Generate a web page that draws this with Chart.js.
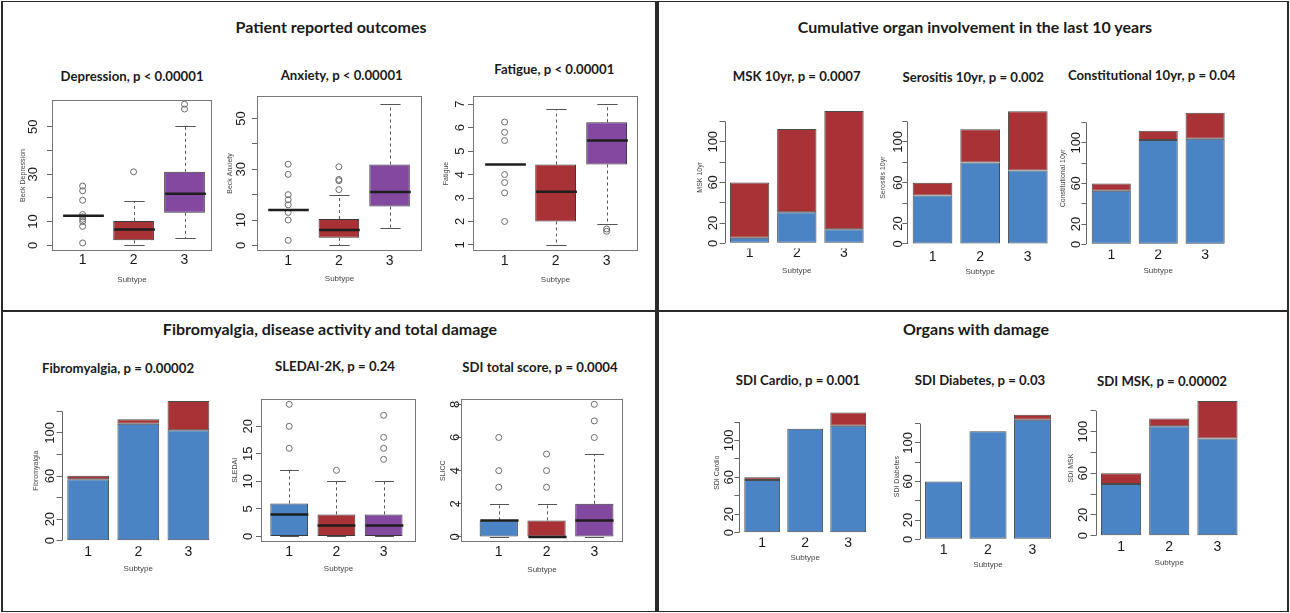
<!DOCTYPE html>
<html><head><meta charset="utf-8">
<script src="https://cdn.jsdelivr.net/npm/chart.js@4/dist/chart.umd.min.js"></script>
<style>
html,body{margin:0;padding:0;background:#fff;}
#wrap{position:relative;width:1290px;height:613px;overflow:hidden;background:#fff;}
#wrap canvas{position:absolute;}
.ttl{position:absolute;font-family:Lato,"Open Sans",sans-serif;font-weight:700;white-space:nowrap;transform:translate(-50%,-50%);color:#1a1a1a;line-height:1;}
.pt{font-size:16px;}
.st{font-size:13.2px;}
.ln{position:absolute;background:#2a2a2a;}
</style></head><body><div id="wrap"></div>
<script>
// ---------------- DATA ----------------
const subtypes = ['1', '2', '3'];
const boxPos = [1, 2, 3];
const barPos = [0.7, 1.9, 3.1];
const barTicks = [0, 20, 40, 60, 80, 100, 120];
const barTickLabels = ['0', '20', '', '60', '', '100', ''];

// Depression (Beck Depression)
const depLow = [12.5, 0, 3];
const depQ1 = [12.5, 2.1, 13.7];
const depMed = [12.5, 6.7, 21.8];
const depQ3 = [12.5, 10.3, 31];
const depHigh = [12.5, 18.7, 50.4];
const depOut = [[25, 23, 19, 13, 12, 11, 10, 8, 1], [31], [59.5, 57.5]];
const depTicks = [0, 10, 20, 30, 40, 50];
const depTickLabels = ['0', '10', '', '30', '', '50'];

// Anxiety (Beck Anxiety)
const anxLow = [14, 0, 6.9];
const anxQ1 = [14, 3, 15.3];
const anxMed = [14, 6.1, 21.1];
const anxQ3 = [14, 10.4, 31.9];
const anxHigh = [14, 20, 55.7];
const anxOut = [[32, 28, 20, 18, 16, 13, 10, 2], [31, 26, 25.5, 22], []];
const anxTicks = [0, 10, 20, 30, 40, 50];
const anxTickLabels = ['0', '10', '', '30', '', '50'];

// Fatigue
const fatLow = [4.43, 1, 1.88];
const fatQ1 = [4.43, 2, 4.43];
const fatMed = [4.43, 3.27, 5.45];
const fatQ3 = [4.43, 4.43, 6.23];
const fatHigh = [4.43, 6.79, 7];
const fatOut = [[6.24, 5.8, 5.45, 4.0, 3.66, 3.22, 2.0], [], [1.68, 1.58]];
const fatTicks = [1, 2, 3, 4, 5, 6, 7];
const fatTickLabels = ['1', '2', '3', '4', '5', '6', '7'];

// SLEDAI-2K
const sleLow = [0, 0, 0];
const sleQ1 = [0, 0, 0];
const sleMed = [4, 2, 2];
const sleQ3 = [6, 4, 4];
const sleHigh = [12, 10, 10];
const sleOut = [[24, 20, 16], [12], [22, 18, 16, 14]];
const sleTicks = [0, 5, 10, 15, 20];
const sleTickLabels = ['0', '5', '10', '15', '20'];

// SDI total score
const sdiLow = [0, 0, 0];
const sdiQ1 = [0, 0, 0];
const sdiMed = [1, 0, 1];
const sdiQ3 = [1, 1, 2];
const sdiHigh = [2, 2, 5];
const sdiOut = [[3, 4, 6], [3, 4, 5], [6, 7, 8]];
const sdiTicks = [0, 2, 4, 6, 8];
const sdiTickLabels = ['0', '2', '4', '6', '8'];

// Stacked bars: blue (bottom) and red (top)
const mskBlue = [5.6, 30.5, 13.8];
const mskRed = [54.4, 82, 116.4];
const serBlue = [47.6, 79.8, 72];
const serRed = [12.4, 32.6, 58];
const conBlue = [52.8, 102.6, 103.9];
const conRed = [7.2, 9.2, 25.6];
const fibBlue = [57.1, 108.6, 102.5];
const fibRed = [3.1, 4.1, 27.1];
const carBlue = [57.2, 112.7, 116];
const carRed = [2.9, 0, 14.4];
const diaBlue = [60, 112, 124];
const diaRed = [0, 0, 5.3];
const smskBlue = [49.7, 105.1, 93.3];
const smskRed = [10.3, 7.4, 36.2];

// ---------------- STYLE / LAYOUT ----------------
const BLUE = '#4a84c4', RED = '#a93236', PURPLE = '#83489f';
const FAM = '"Liberation Sans", Arial, sans-serif';
const wrap = document.getElementById('wrap');
const mctx = document.createElement('canvas').getContext('2d');
function widest(labels, size) {
  mctx.font = size + 'px ' + FAM;
  return Math.max(...labels.map(l => mctx.measureText(l).width));
}
function addDiv(cls, text, x, y) {
  const d = document.createElement('div');
  d.className = cls; d.textContent = text;
  d.style.left = x + 'px'; d.style.top = y + 'px';
  wrap.appendChild(d);
}
function addLine(x, y, w, h) {
  const d = document.createElement('div');
  d.className = 'ln';
  Object.assign(d.style, {left: x + 'px', top: y + 'px', width: w + 'px', height: h + 'px'});
  wrap.appendChild(d);
}

function rPlugin(kind, stats, yTicks) {
  return {
    id: 'rstyle',
    afterDatasetsDraw(chart) {
      const {ctx, chartArea: a, scales: {x, y}} = chart;
      ctx.save();
      if (kind === 'box') {
        const s = stats;
        for (let i = 0; i < boxPos.length; i++) {
          const cx = Math.round(x.getPixelForValue(boxPos[i])) + 0.5;
          const half = x.getPixelForValue(boxPos[i] + 0.4) - x.getPixelForValue(boxPos[i]);
          const cap = half / 2;
          const yq1 = y.getPixelForValue(s.q1[i]), yq3 = y.getPixelForValue(s.q3[i]);
          const ylo = y.getPixelForValue(s.low[i]), yhi = y.getPixelForValue(s.high[i]);
          ctx.strokeStyle = '#555'; ctx.lineWidth = 1;
          ctx.setLineDash([3, 3]);
          ctx.beginPath();
          if (s.high[i] > s.q3[i]) { ctx.moveTo(cx, yq3); ctx.lineTo(cx, yhi); }
          if (s.low[i] < s.q1[i]) { ctx.moveTo(cx, yq1); ctx.lineTo(cx, ylo); }
          ctx.stroke();
          ctx.setLineDash([]);
          ctx.beginPath();
          ctx.moveTo(cx - cap, Math.round(yhi) + 0.5); ctx.lineTo(cx + cap, Math.round(yhi) + 0.5);
          ctx.moveTo(cx - cap, Math.round(ylo) + 0.5); ctx.lineTo(cx + cap, Math.round(ylo) + 0.5);
          ctx.stroke();
          const ym = y.getPixelForValue(s.med[i]);
          ctx.strokeStyle = '#1e1e1e'; ctx.lineWidth = 2.5;
          ctx.beginPath(); ctx.moveTo(cx - half, ym); ctx.lineTo(cx + half, ym); ctx.stroke();
        }
        ctx.strokeStyle = '#777'; ctx.lineWidth = 1;
        ctx.strokeRect(Math.round(a.left) + 0.5, Math.round(a.top) + 0.5, Math.round(a.width) - 1, Math.round(a.height) - 1);
      } else {
        ctx.strokeStyle = '#666'; ctx.lineWidth = 1;
        const lx = Math.round(a.left) + 0.5;
        ctx.beginPath();
        ctx.moveTo(lx, y.getPixelForValue(yTicks[0]));
        ctx.lineTo(lx, y.getPixelForValue(yTicks[yTicks.length - 1]));
        ctx.stroke();
      }
      ctx.restore();
    }
  };
}

function makeChart(lay, kind, datasets, yTicks, yLabels, xTicks, yTitle, stats) {
  const tl = 5, pt = 3, pr = 3, fsX = 14, fsT = 8, fsY = 7, fsTick = lay.fs || 13;
  const left = Math.round(lay.ytX - 7);
  const top = Math.round(lay.y0 - pt);
  const right = Math.round(lay.x1 + pr);
  const bottom = Math.round(lay.stY + fsT * 0.6 + 2);
  const Lw = lay.x0 - left, Bh = bottom - lay.y1;
  const cv = document.createElement('canvas');
  cv.width = right - left; cv.height = bottom - top;
  cv.style.left = left + 'px'; cv.style.top = top + 'px';
  wrap.appendChild(cv);
  const wd = widest(yLabels, fsTick);
  new Chart(cv, {
    type: 'bar',
    data: {datasets},
    options: {
      responsive: false, animation: false, devicePixelRatio: 1,
      layout: {padding: {top: pt, right: pr, left: 0, bottom: 0}},
      plugins: {legend: {display: false}, tooltip: {enabled: false}, title: {display: false}},
      scales: {
        x: {
          type: 'linear', min: lay.xmin, max: lay.xmax, stacked: kind === 'bar', offset: false,
          grid: {display: false, drawTicks: false, offset: false}, border: {display: false},
          afterBuildTicks: s => { s.ticks = xTicks.map(v => ({value: v})); },
          afterFit: s => { s.height = Bh; s.paddingLeft = 0; s.paddingRight = 0; },
          ticks: {callback: (v, i) => subtypes[i], padding: lay.xlY - lay.y1 - fsX * 0.6,
                  font: {size: fsX, family: FAM}, color: '#1a1a1a', maxRotation: 0, autoSkip: false},
          title: {display: true, text: 'Subtype', font: {size: fsT, family: FAM}, color: '#444',
                  padding: {top: 0, bottom: bottom - lay.stY - fsT * 0.6}}
        },
        y: {
          type: 'linear', min: lay.ymin, max: lay.ymax, stacked: kind === 'bar', beginAtZero: false,
          grid: {drawOnChartArea: false, drawTicks: true, tickLength: tl, color: '#666'},
          border: {display: false},
          afterBuildTicks: s => { s.ticks = yTicks.map(v => ({value: v})); },
          afterFit: s => { s.width = Lw; s.paddingTop = 0; s.paddingBottom = 0; },
          ticks: {callback: (v, i) => yLabels[i], minRotation: 90, maxRotation: 90, crossAlign: 'center',
                  padding: lay.x0 - lay.labX - tl - wd / 2, font: {size: fsTick, family: FAM},
                  color: '#1a1a1a', autoSkip: false},
          title: {display: true, text: yTitle, font: {size: fsY, family: FAM}, color: '#444',
                  padding: {top: lay.ytX - left - fsY * 0.6, bottom: 0}}
        }
      }
    },
    plugins: [rPlugin(kind, stats, yTicks)]
  });
  addDiv('ttl st', lay.title, lay.tX, lay.tY);
}

function boxChart(lay, low, q1, med, q3, high, out, yTicks, yLabels, yTitle, colors) {
  const outPts = [];
  out.forEach((arr, i) => arr.forEach(v => outPts.push({x: boxPos[i], y: v})));
  const datasets = [
    {type: 'bar', data: boxPos.map((p, i) => ({x: p, y: [q1[i], q3[i]]})),
     backgroundColor: colors, borderColor: '#3a3a3a', borderWidth: 1, borderSkipped: false,
     categoryPercentage: 1, barPercentage: 0.8, order: 2},
    {type: 'scatter', data: outPts, pointRadius: 3, pointBorderWidth: 1,
     pointBorderColor: '#6a6a6a', pointBackgroundColor: 'rgba(0,0,0,0)', order: 1}
  ];
  makeChart(lay, 'box', datasets, yTicks, yLabels, boxPos, yTitle, {low, q1, med, q3, high});
}

function barChart(lay, blue, red, yTitle) {
  const mk = (vals, col) => ({type: 'bar', data: barPos.map((p, i) => ({x: p, y: vals[i]})),
    backgroundColor: col, borderColor: '#4a4a4a', borderWidth: 1, borderSkipped: false,
    categoryPercentage: 1, barPercentage: 1 / 1.2});
  const l = Object.assign({xmin: 0.064, xmax: 3.736, ymin: -5.2, ymax: 135.2}, lay);
  makeChart(l, 'bar', [mk(blue, BLUE), mk(red, RED)], barTicks, barTickLabels, barPos, yTitle);
}

// ---- panel frame lines ----
addLine(1, 1, 1288, 1);
addLine(1, 611, 1288, 1);
addLine(1, 1, 2, 611);
addLine(1287, 1, 2, 611);
addLine(655, 1, 4, 611);
addLine(1, 310, 1288, 2);

// ---- panel titles ----
addDiv('ttl pt', 'Patient reported outcomes', 331, 27);
addDiv('ttl pt', 'Cumulative organ involvement in the last 10 years', 975, 27);
addDiv('ttl pt', 'Fibromyalgia, disease activity and total damage', 330, 329);
addDiv('ttl pt', 'Organs with damage', 976, 329);

// ---- charts ----
const C3 = [BLUE, RED, PURPLE];
boxChart({title: 'Depression, p < 0.00001', x0: 52, x1: 214, y0: 98, y1: 251, xmin: 0.398, xmax: 3.54,
          ymin: -2.4, ymax: 61.3, labX: 33, ytX: 23, xlY: 260, stY: 280, tX: 132, tY: 77},
         depLow, depQ1, depMed, depQ3, depHigh, depOut, depTicks, depTickLabels, 'Beck Depression', C3);
boxChart({title: 'Anxiety, p < 0.00001', x0: 257, x1: 424, y0: 94, y1: 251, xmin: 0.385, xmax: 3.64,
          ymin: -2.2, ymax: 58.9, labX: 241.7, ytX: 230, xlY: 261, stY: 279, tX: 341.7, tY: 75.7},
         anxLow, anxQ1, anxMed, anxQ3, anxHigh, anxOut, anxTicks, anxTickLabels, 'Beck Anxiety', C3);
boxChart({title: 'Fatigue, p < 0.00001', x0: 473, x1: 640, y0: 94, y1: 251, xmin: 0.38, xmax: 3.615,
          ymin: 0.74, ymax: 7.35, labX: 460.7, ytX: 446, xlY: 260.7, stY: 279.3, tX: 554.3, tY: 70},
         fatLow, fatQ1, fatMed, fatQ3, fatHigh, fatOut, fatTicks, fatTickLabels, 'Fatigue', C3);

barChart({title: 'MSK 10yr, p = 0.0007', x0: 724.6, x1: 869.4, y0: 105.8, y1: 248.6,
          labX: 713, ytX: 700, xlY: 253.3, stY: 270.7, tX: 796.7, tY: 76.7}, mskBlue, mskRed, 'MSK 10yr');
barChart({title: 'Serositis 10yr, p = 0.002', x0: 907.3, x1: 1053.1, y0: 105.7, y1: 249.3,
          labX: 898.3, ytX: 882.7, xlY: 256.7, stY: 271.7, tX: 973.3, tY: 78.3}, serBlue, serRed, 'Serositis 10yr');
barChart({title: 'Constitutional 10yr, p = 0.04', x0: 1086.4, x1: 1230, y0: 106.9, y1: 249.6,
          labX: 1076.7, ytX: 1062.7, xlY: 255, stY: 270.7, tX: 1151.7, tY: 75.7}, conBlue, conRed, 'Constitutional 10yr');

barChart({title: 'Fibromyalgia, p = 0.00002', x0: 61.6, x1: 214.7, y0: 394.7, y1: 546.3,
          labX: 50, ytX: 36, xlY: 551.7, stY: 569, tX: 118, tY: 369}, fibBlue, fibRed, 'Fibromyalgia');
boxChart({title: 'SLEDAI-2K, p = 0.24', x0: 261, x1: 417.7, y0: 397.3, y1: 541.7, xmin: 0.403, xmax: 3.685,
          ymin: -0.96, ymax: 24.96, labX: 248, ytX: 235, xlY: 551.7, stY: 569, tX: 335, tY: 367.3},
         sleLow, sleQ1, sleMed, sleQ3, sleHigh, sleOut, sleTicks, sleTickLabels, 'SLEDAI', C3);
boxChart({title: 'SDI total score, p = 0.0004', x0: 461, x1: 625, y0: 397.3, y1: 542.3, xmin: 0.21, xmax: 3.6,
          ymin: -0.32, ymax: 8.32, labX: 455, ytX: 443.3, xlY: 551.7, stY: 569.3, tX: 540, tY: 368.3},
         sdiLow, sdiQ1, sdiMed, sdiQ3, sdiHigh, sdiOut, sdiTicks, sdiTickLabels, 'SLICC', C3);

barChart({title: 'SDI Cardio, p = 0.001', x0: 739.4, x1: 870.9, y0: 408.3, y1: 537.5,
          labX: 729.3, ytX: 716.7, xlY: 542.7, stY: 557.3, tX: 798, tY: 380.7}, carBlue, carRed, 'SDI Cardio');
barChart({title: 'SDI Diabetes, p = 0.03', x0: 920, x1: 1056, y0: 408.6, y1: 544.3,
          labX: 908.3, ytX: 896.7, xlY: 550, stY: 565, tX: 980, tY: 380.7}, diaBlue, diaRed, 'SDI Diabetes');
barChart({title: 'SDI MSK, p = 0.00002', x0: 1095.5, x1: 1242.8, y0: 395.1, y1: 541.1,
          labX: 1083.3, ytX: 1071, xlY: 546.7, stY: 562.3, tX: 1162, tY: 381.7}, smskBlue, smskRed, 'SDI MSK');
</script></body></html>
